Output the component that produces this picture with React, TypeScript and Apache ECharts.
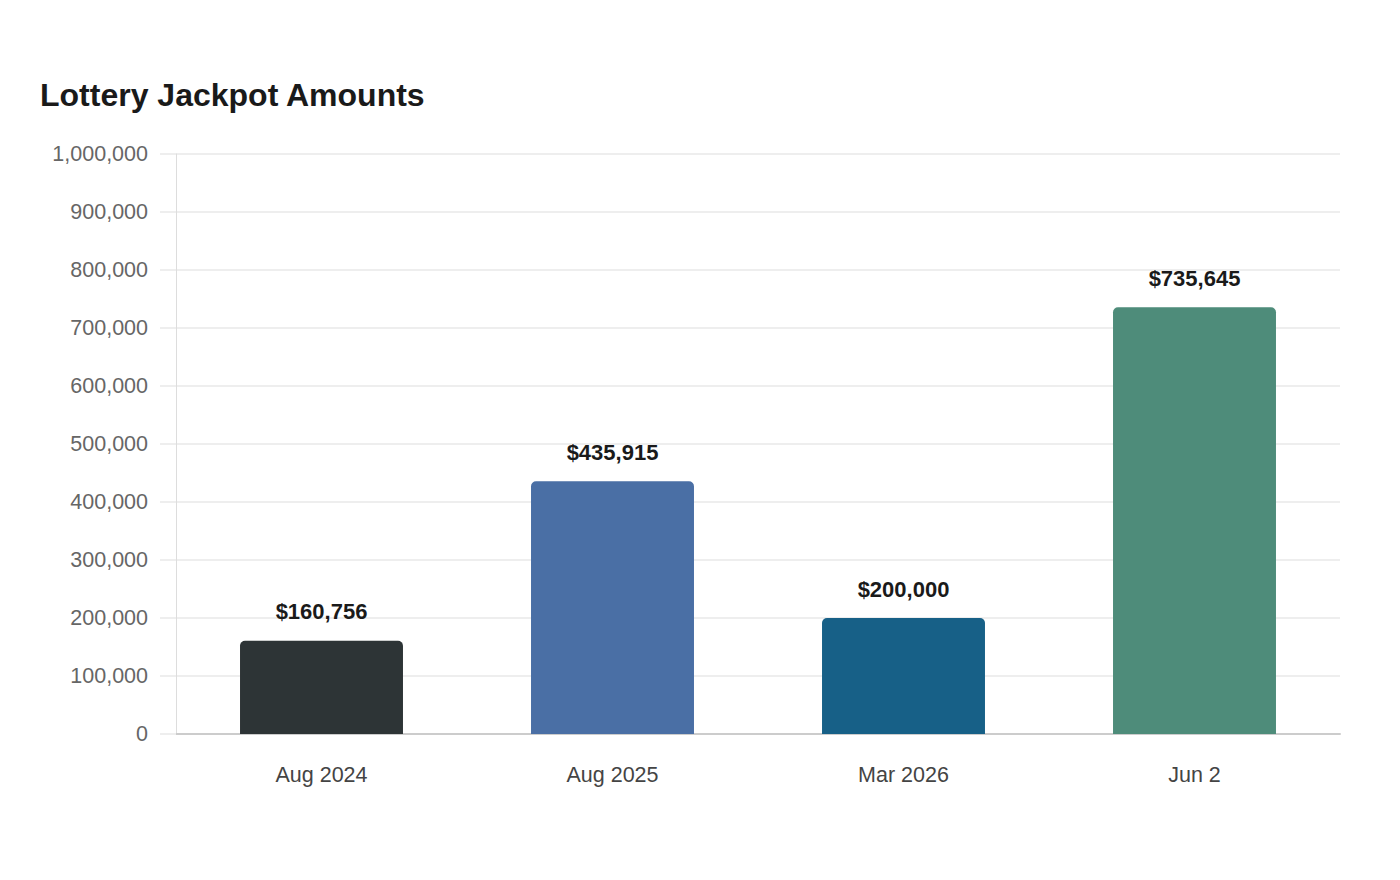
import React, { useEffect, useRef } from "react";
import * as echarts from "echarts";

const categories = ["Aug 2024", "Aug 2025", "Mar 2026", "Jun 2"];
const jackpots = [160756, 435915, 200000, 735645];
const barColors = ["#2d3436", "#4a6fa5", "#176087", "#4e8c7a"];
const yTicks = { min: 0, max: 1000000, interval: 100000 };

export default function App() {
  const ref = useRef<HTMLDivElement>(null);
  useEffect(() => {
    if (!ref.current) return;
    const chart = echarts.init(ref.current, undefined, { renderer: "svg" });
    chart.setOption({
      animation: false,
      backgroundColor: "#ffffff",
      title: {
        text: "Lottery Jackpot Amounts",
        left: 40,
        top: 79,
        padding: 0,
        textStyle: {
          fontFamily: "Liberation Sans, Arial, sans-serif",
          fontSize: 32,
          fontWeight: "bold",
          color: "#1a1a1a",
        },
      },
      grid: { left: 176, right: 60, top: 154, bottom: 146, containLabel: false },
      xAxis: {
        type: "category",
        data: categories,
        axisLine: { show: true, lineStyle: { color: "#cccccc", width: 2 } },
        axisTick: { show: false },
        axisLabel: {
          margin: 30,
          fontFamily: "Liberation Sans, Arial, sans-serif",
          fontSize: 21.5,
          color: "#444444",
        },
      },
      yAxis: {
        type: "value",
        min: yTicks.min,
        max: yTicks.max,
        interval: yTicks.interval,
        axisLine: { show: true, lineStyle: { color: "#dddddd", width: 1 } },
        axisTick: { show: true, length: 16, lineStyle: { color: "#eeeeee", width: 2 } },
        splitLine: { show: true, lineStyle: { color: "#eeeeee", width: 2 } },
        axisLabel: {
          margin: 28,
          fontFamily: "Liberation Sans, Arial, sans-serif",
          fontSize: 21.5,
          color: "#666666",
          formatter: (v: number) => v.toLocaleString("en-US"),
        },
      },
      series: [
        {
          type: "bar",
          barWidth: "56%",
          data: jackpots.map((v, i) => ({
            value: v,
            itemStyle: { color: barColors[i], borderRadius: [5, 5, 0, 0] },
          })),
          label: {
            show: true,
            position: "top",
            distance: 18,
            fontFamily: "Liberation Sans, Arial, sans-serif",
            fontSize: 22,
            fontWeight: "bold",
            color: "#1a1a1a",
            formatter: (p: any) => "$" + Number(p.value).toLocaleString("en-US"),
          },
        },
      ],
    });
    return () => chart.dispose();
  }, []);
  return <div ref={ref} style={{ width: 1400, height: 880, margin: -8 }} />;
}
